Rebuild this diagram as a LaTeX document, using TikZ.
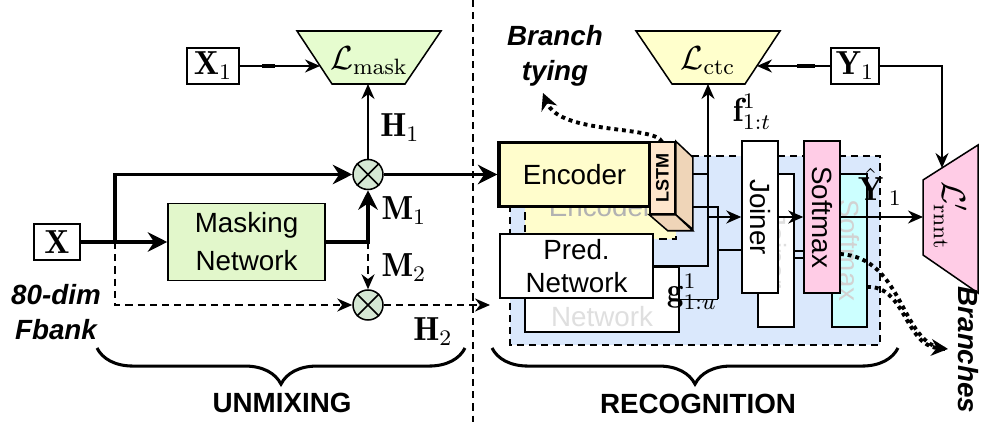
\documentclass[tikz,border=0pt]{standalone}
\usepackage{fontspec}
\newfontfamily\lsans{Liberation Sans}
\usetikzlibrary{arrows.meta,decorations.pathreplacing,calc}
\definecolor{maskgreen}{HTML}{E2F7CB}
\definecolor{lossgreen}{HTML}{E6FCCF}
\definecolor{otfill}{HTML}{D5E8D4}
\definecolor{encyellow}{HTML}{FFFDCC}
\definecolor{ctcyellow}{HTML}{FFFFCC}
\definecolor{regionblue}{HTML}{DAE8FC}
\definecolor{lstmfront}{HTML}{FFE6CC}
\definecolor{lstmside}{HTML}{EFD5B8}
\definecolor{softpink}{HTML}{FFCCE6}
\definecolor{softcyan}{HTML}{CCFFFF}
\begin{document}
\begin{tikzpicture}[x=0.36pt,y=-0.36pt,
  thin/.style={line width=0.55pt},
  thk/.style={line width=1.3pt},
  arr/.style={-{Stealth[length=5.4pt,width=4.7pt]}},
  bigarr/.style={-{Stealth[length=7pt,width=7pt]}},
  dotarr/.style={-{Stealth[length=6pt,width=6pt]}},
  dashln/.style={dash pattern=on 2.6pt off 1.8pt},
  dotln/.style={line width=1.4pt,dash pattern=on 1.4pt off 1.4pt},
  sz/.style 2 args={minimum width={#1*0.36pt},minimum height={#2*0.36pt}},
  box/.style={draw,line width=0.55pt,inner sep=0pt,anchor=center},
  sans/.style={font=\lsans\fontsize{10}{12}\selectfont,align=center,inner sep=0pt},
  sansb/.style={font=\lsans\bfseries\fontsize{10}{12}\selectfont,align=center,inner sep=0pt},
  sansbi/.style={font=\lsans\bfseries\itshape\fontsize{10}{12.6}\selectfont,align=center,inner sep=0pt},
  mathlbl/.style={font=\fontsize{12}{14}\selectfont,inner sep=0pt},
  faded/.style={text=gray!55},
  otimes/.style={circle,draw,fill=otfill,line width=0.55pt,minimum size={30*0.36pt},inner sep=0pt}]
\useasboundingbox (0,0) rectangle (981,422);

% divider between the two stages
\draw[thin,dashln] (473,0) -- (473,422);

% ---------------- unmixing stage ----------------
\node[box,fill=white,sz={46}{36},font=\fontsize{12}{14}\selectfont] (x) at (57,242) {$\mathbf{X}$};
\node[box,fill=white,sz={52}{36},font=\fontsize{12}{14}\selectfont] (x1) at (213,66) {$\mathbf{X}_1$};
\node[box,fill=maskgreen,sz={157}{77},sans,font=\lsans\fontsize{10}{13.7}\selectfont] (mask) at (246.5,242) {Masking\\Network};
\node[otimes] (m1) at (368,174.5) {};
\draw[thin] (m1.north west) -- (m1.south east) (m1.north east) -- (m1.south west);
\node[otimes] (m2) at (368,305) {};
\draw[thin] (m2.north west) -- (m2.south east) (m2.north east) -- (m2.south west);

% mask loss
\draw[thin,fill=lossgreen] (297,31) -- (441,31) -- (405,84) -- (332,84) -- cycle;
\node[mathlbl] (lmask) at (369,61) {$\mathcal{L}_{\mathrm{mask}}$};
\coordinate (lmaskL) at (320,66);
\coordinate (lmaskB) at (368,84);

\coordinate (j) at (115,242);
\coordinate (mj) at (368,242);
\coordinate (h2end) at (490,305);

\draw[thin,arr] (x1) -- (lmaskL);
\draw[line width=1.1pt] (262,66) -- (275,66);
\draw[thin,arr] (m1) -- (lmaskB);
\draw[thk,bigarr] (x) -- (mask);
\draw[thk,bigarr] (j) |- (m1);
\draw[thk,bigarr] (mask) -| (m1);
\draw[thin,dashln,arr] (mj) -- (m2);
\draw[thin,dashln,arr] (j) |- (m2);
\draw[thin,dashln,arr] (m2) -- (h2end);

\node[mathlbl] (h1) at (400,128) {$\mathbf{H}_1$};
\node[mathlbl] (lm1) at (404,211) {$\mathbf{M}_1$};
\node[mathlbl] (lm2) at (404,268) {$\mathbf{M}_2$};
\node[mathlbl] (h2) at (433,332) {$\mathbf{H}_2$};
\node[sansbi] (fbank) at (56,312) {80-dim\\Fbank};

% ---------------- recognition stage ----------------
% second-branch region
\fill[regionblue] (510,156) rectangle (880,345);
\draw[thin,dashln] (510,156) rectangle (880,345);

% second-branch copies
\node[box,dashln,fill=encyellow,sz={151}{64}] (encb) at (600.5,207) {};
\node[sans,faded,text=gray!60] (encbT) at (600.5,207) {Encoder};
\node[box,fill=white,sz={154}{65}] (predb) at (602,299.5) {};
\node[sans,faded,text=gray!25,font=\lsans\fontsize{10}{12}\selectfont] (predbT) at (602,299.5) {Pred.\\Network};
\node[box,fill=white,sz={36}{153}] (joinb) at (776,250.5) {};
\node[sans,text=gray!25,rotate=-90] (joinbT) at (776,250.5) {Joiner};
\node[box,fill=softcyan,sz={35}{153}] (softb) at (849.5,250.5) {};
\node[sans,text=gray!35,rotate=-90] (softbT) at (849.5,250.5) {Softmax};

% first-branch blocks
\node[box,line width=1.2pt,fill=encyellow,sz={151}{64},sans] (enc) at (574.5,174.5) {Encoder};
\node[box,fill=lstmfront,sz={25}{72}] (lstm) at (662.5,178) {};
\draw[thin,fill=lstmside] (lstm.north east) -- ++(17,16) -- ++(0,72) -- (lstm.south east) -- cycle;
\draw[thin,fill=lstmside] (lstm.south west) -- (lstm.south east) -- ++(17,16) -- ++(-25,0) -- cycle;
\node[rotate=90,font=\lsans\bfseries\fontsize{6.5}{7}\selectfont,inner sep=0pt] (lstmT) at (lstm.center) {LSTM};
\node[box,fill=white,sz={153}{64},sans] (pred) at (576.5,266) {Pred.\\Network};
\node[box,fill=white,sz={36}{152}] (join) at (760,217) {};
\node[sans,rotate=-90] (joinT) at (760,217) {Joiner};
\node[box,fill=softpink,sz={36}{152}] (soft) at (822,217) {};
\node[sans,rotate=-90] (softT) at (822,217) {Softmax};

% CTC loss
\draw[thin,fill=ctcyellow] (636,31) -- (780,31) -- (745,84) -- (672,84) -- cycle;
\node[mathlbl] (lctc) at (708,61) {$\mathcal{L}_{\mathrm{ctc}}$};
\coordinate (ctcB) at (708,84);
\coordinate (ctcR) at (757,66);

% RNN-T loss
\draw[thin,fill=softpink] (923,180) -- (978,145) -- (978,293) -- (923,255) -- cycle;
\node[mathlbl,rotate=-90] (lrnnt) at (950,216) {$\mathcal{L}'_{\mathrm{rnnt}}$};
\coordinate (rnntL) at (923,217);
\coordinate (rnntT) at (942,168);

\node[box,fill=white,sz={48}{36},font=\fontsize{12}{14}\selectfont] (y1) at (855,66) {$\mathbf{Y}_1$};

% wiring
\draw[thk,bigarr] (m1) -- (enc);
\draw[thin,arr] (pred) -| (ctcB);
\draw[thin] (692,174) -- (708,174);
\draw[thin,arr] (708,217) -- (join.west);
\draw[thin] (692,207) -| (718,299.5);
\draw[thin] (predb.east) -- (718,299.5);
\draw[thin] (718,250) -- (742,250);
\draw[thin,arr] (join) -- (soft);
\draw[thin] (794,251) -- (804,251) (794,258) -- (804,258);
\draw[thin,arr] (soft) -- (rnntL);
\draw[thin,arr] (y1) -- (ctcR);
\draw[line width=1.1pt] (797,66) -- (815,66);
\draw[thin,arr] (y1) -| (rnntT);

\node[mathlbl] (flbl) at (752,112) {$\mathbf{f}^1_{1:t}$};
\node[mathlbl] (glbl) at (692,292) {$\mathbf{g}^1_{1:u}$};
\node[mathlbl] (yhat) at (880,187) {$\hat{\mathbf{Y}}\,{}_1$};

% branch annotations
\node[sansbi] (tying) at (555,56) {Branch\\tying};
\draw[dotln,dotarr] (662,142) .. controls (655,125) and (560,135) .. (543,93);
\draw[dotln] (840,254) .. controls (905,258) and (900,345) .. (945,349);
\draw[dotln,dotarr] (867,287) .. controls (905,285) and (905,345) .. (948,349);
\node[sansbi,rotate=-90] (branches) at (968,350) {Branches};

% stage braces
\draw[line width=1.1pt,decorate,decoration={brace,amplitude=13pt}] (465,348) -- (97,348);
\draw[line width=1.1pt,decorate,decoration={brace,amplitude=13pt}] (898,348) -- (492,348);
\node[sansb] (unmix) at (282,403) {UNMIXING};
\node[sansb] (recog) at (698,404) {RECOGNITION};
\end{tikzpicture}
\end{document}
